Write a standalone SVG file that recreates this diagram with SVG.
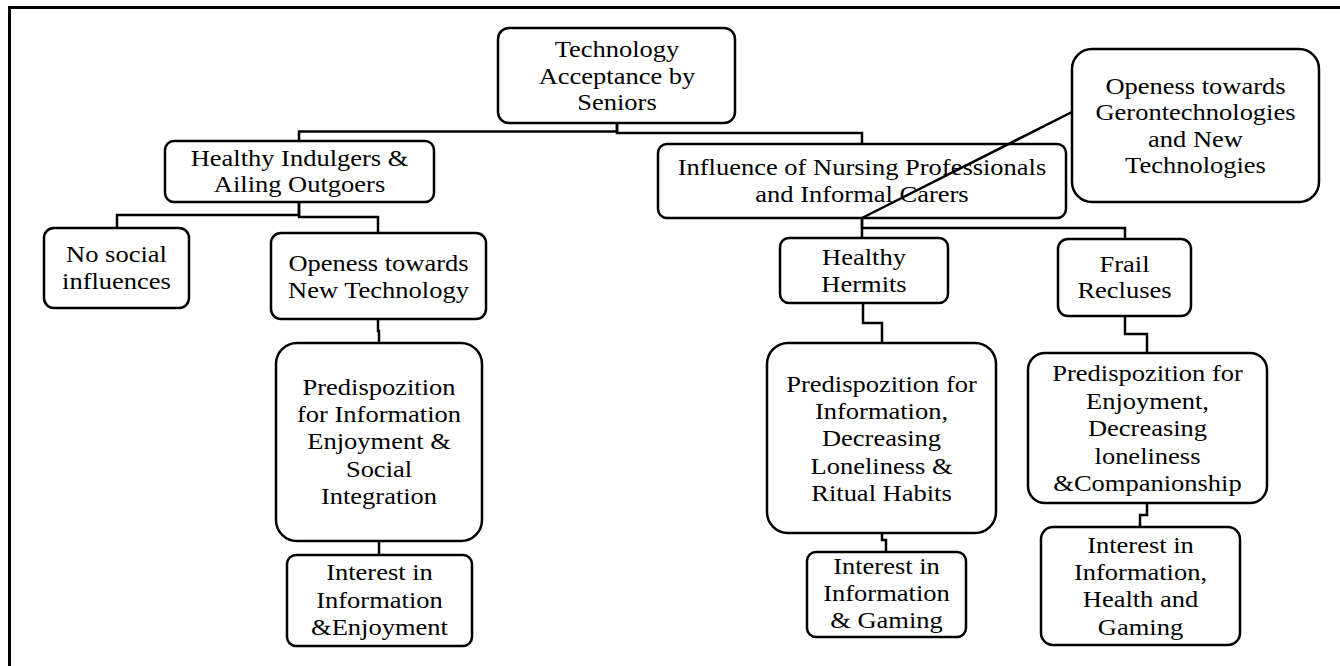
<svg xmlns="http://www.w3.org/2000/svg" width="1340" height="666" viewBox="0 0 1340 666">
<style>
.frame{fill:none;stroke:#000;stroke-width:3}
.box{fill:#fff;stroke:#000;stroke-width:2.5}
.conn{fill:none;stroke:#000;stroke-width:2.5}
.t{font-family:"Liberation Serif","Times New Roman",serif;font-size:23.5px;text-anchor:middle;fill:#000}
</style>
<rect width="1340" height="666" fill="#fff"/>
<path class="frame" d="M9.5,666 V7.5 H1340"/>
<g id="root">
<rect class="box" x="498" y="28" width="237" height="95" rx="11"/>
<g transform="translate(617,0) scale(1.128,1)">
<text class="t" x="0" y="57">Technology</text>
<text class="t" x="0" y="84">Acceptance by</text>
<text class="t" x="0" y="110">Seniors</text>
</g>
</g>
<g id="healthy-indulgers">
<rect class="box" x="165" y="141" width="269" height="61" rx="9"/>
<g transform="translate(299.5,0) scale(1.128,1)">
<text class="t" x="0" y="166">Healthy Indulgers &amp;</text>
<text class="t" x="0" y="192">Ailing Outgoers</text>
</g>
</g>
<g id="influence">
<rect class="box" x="658" y="144" width="408" height="74" rx="9"/>
<g transform="translate(862,0) scale(1.128,1)">
<text class="t" x="0" y="175">Influence of Nursing Professionals</text>
<text class="t" x="0" y="202">and Informal Carers</text>
</g>
</g>
<g id="openess-geron">
<rect class="box" x="1072" y="49" width="247" height="153" rx="20"/>
<g transform="translate(1195.5,0) scale(1.128,1)">
<text class="t" x="0" y="94">Openess towards</text>
<text class="t" x="0" y="120">Gerontechnologies</text>
<text class="t" x="0" y="147">and New</text>
<text class="t" x="0" y="173">Technologies</text>
</g>
</g>
<g id="no-social">
<rect class="box" x="44" y="228" width="145" height="80" rx="10"/>
<g transform="translate(116.5,0) scale(1.128,1)">
<text class="t" x="0" y="262">No social</text>
<text class="t" x="0" y="289">influences</text>
</g>
</g>
<g id="openess-new">
<rect class="box" x="271" y="233" width="215" height="86" rx="10"/>
<g transform="translate(378.5,0) scale(1.128,1)">
<text class="t" x="0" y="271">Openess towards</text>
<text class="t" x="0" y="298">New Technology</text>
</g>
</g>
<g id="predisp-left">
<rect class="box" x="276" y="343" width="206" height="198" rx="21"/>
<g transform="translate(379,0) scale(1.128,1)">
<text class="t" x="0" y="395">Predispozition</text>
<text class="t" x="0" y="422">for Information</text>
<text class="t" x="0" y="449">Enjoyment &amp;</text>
<text class="t" x="0" y="477">Social</text>
<text class="t" x="0" y="504">Integration</text>
</g>
</g>
<g id="interest-left">
<rect class="box" x="287" y="555" width="185" height="91" rx="9"/>
<g transform="translate(379.5,0) scale(1.128,1)">
<text class="t" x="0" y="580">Interest in</text>
<text class="t" x="0" y="608">Information</text>
<text class="t" x="0" y="635">&amp;Enjoyment</text>
</g>
</g>
<g id="healthy-hermits">
<rect class="box" x="780" y="238" width="168" height="65" rx="9"/>
<g transform="translate(864,0) scale(1.128,1)">
<text class="t" x="0" y="265">Healthy</text>
<text class="t" x="0" y="292">Hermits</text>
</g>
</g>
<g id="frail-recluses">
<rect class="box" x="1058" y="239" width="133" height="77" rx="10"/>
<g transform="translate(1124.5,0) scale(1.128,1)">
<text class="t" x="0" y="272">Frail</text>
<text class="t" x="0" y="298">Recluses</text>
</g>
</g>
<g id="predisp-hermits">
<rect class="box" x="767" y="343" width="229" height="190" rx="21"/>
<g transform="translate(881.5,0) scale(1.128,1)">
<text class="t" x="0" y="392">Predispozition for</text>
<text class="t" x="0" y="419">Information,</text>
<text class="t" x="0" y="446">Decreasing</text>
<text class="t" x="0" y="474">Loneliness &amp;</text>
<text class="t" x="0" y="501">Ritual Habits</text>
</g>
</g>
<g id="interest-gaming">
<rect class="box" x="807" y="552" width="159" height="85" rx="9"/>
<g transform="translate(886.5,0) scale(1.128,1)">
<text class="t" x="0" y="574">Interest in</text>
<text class="t" x="0" y="601">Information</text>
<text class="t" x="0" y="628">&amp; Gaming</text>
</g>
</g>
<g id="predisp-frail">
<rect class="box" x="1028" y="353" width="239" height="150" rx="17"/>
<g transform="translate(1147.5,0) scale(1.128,1)">
<text class="t" x="0" y="381">Predispozition for</text>
<text class="t" x="0" y="409">Enjoyment,</text>
<text class="t" x="0" y="436">Decreasing</text>
<text class="t" x="0" y="464">loneliness</text>
<text class="t" x="0" y="491">&amp;Companionship</text>
</g>
</g>
<g id="interest-health">
<rect class="box" x="1041" y="527" width="199" height="118" rx="12"/>
<g transform="translate(1140.5,0) scale(1.128,1)">
<text class="t" x="0" y="553">Interest in</text>
<text class="t" x="0" y="580">Information,</text>
<text class="t" x="0" y="607">Health and</text>
<text class="t" x="0" y="635">Gaming</text>
</g>
</g>
<g id="connectors">
<path class="conn" d="M617,123 V131.5 H299 V141"/>
<path class="conn" d="M617,123 V133 H862 V144"/>
<path class="conn" d="M299,202 V215 H117 V228"/>
<path class="conn" d="M299,202 V217 H378 V233"/>
<path class="conn" d="M378,319 V331 H379 V343"/>
<path class="conn" d="M379,541 V555"/>
<path class="conn" d="M862,218 V238"/>
<path class="conn" d="M862,218 V228 H1125 V239"/>
<path class="conn" d="M863,303 V323 H882 V343"/>
<path class="conn" d="M882,533 V540 H886 V552"/>
<path class="conn" d="M1125,316 V334 H1147 V353"/>
<path class="conn" d="M1147,503 V515 H1140 V527"/>
<path class="conn" d="M1072,112 L862,218"/>
</g>
</svg>
